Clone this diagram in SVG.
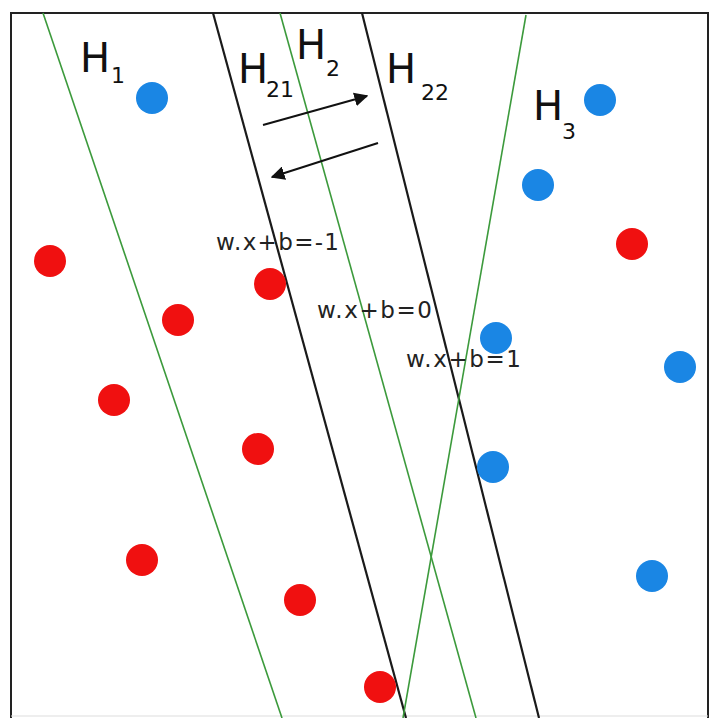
<svg xmlns="http://www.w3.org/2000/svg" width="710" height="718" viewBox="0 0 710 718">
<defs>
<style>
.blue{fill:#1a86e4}
.red{fill:#f01010}
.green{stroke:#3c9a3c;stroke-width:1.6;fill:none}
.black{stroke:#1a1a1a;stroke-width:2.2;fill:none}
.arrow{stroke:#111;stroke-width:2;fill:none;marker-end:url(#ah)}
.H{font-family:"DejaVu Sans",sans-serif;font-size:40px;fill:#111}
.sub{font-family:"DejaVu Sans",sans-serif;font-size:22px;fill:#111}
.eq{font-family:"DejaVu Sans",sans-serif;font-size:23px;fill:#222}
</style>
<marker id="ah" viewBox="0 0 10 10" refX="9" refY="5" markerWidth="7" markerHeight="7" markerUnits="strokeWidth" orient="auto">
<path d="M0,0 L10,5 L0,10 z" fill="#111"/>
</marker>
</defs>
<rect x="0" y="0" width="710" height="718" fill="#fff"/>
<g id="frame">
<path d="M11,718 L11,13 L708,13 L708,718" fill="none" stroke="#222" stroke-width="2"/>
<line x1="11" y1="716" x2="708" y2="716" stroke="#ddd" stroke-width="1"/>
</g>
<g id="hyperplanes">
<line id="H1-line" class="green" x1="43" y1="13" x2="282" y2="718"/>
<line id="H21-line" class="black" x1="213" y1="13" x2="406" y2="718"/>
<line id="H2-line" class="green" x1="280" y1="13" x2="476" y2="718"/>
<line id="H22-line" class="black" x1="362" y1="13" x2="539" y2="718"/>
<line id="H3-line" class="green" x1="526" y1="15" x2="403" y2="718"/>
</g>
<g id="connectors">
<line class="arrow" x1="263" y1="125" x2="367" y2="96"/>
<line class="arrow" x1="378" y1="143" x2="272" y2="177"/>
</g>
<g id="points-blue">
<circle class="blue" cx="152" cy="98" r="16"/>
<circle class="blue" cx="600" cy="100" r="16"/>
<circle class="blue" cx="538" cy="185" r="16"/>
<circle class="blue" cx="496" cy="338" r="16"/>
<circle class="blue" cx="680" cy="367" r="16"/>
<circle class="blue" cx="493" cy="467" r="16"/>
<circle class="blue" cx="652" cy="576" r="16"/>
</g>
<g id="points-red">
<circle class="red" cx="632" cy="244" r="16"/>
<circle class="red" cx="50" cy="261" r="16"/>
<circle class="red" cx="270" cy="284" r="16"/>
<circle class="red" cx="178" cy="320" r="16"/>
<circle class="red" cx="114" cy="400" r="16"/>
<circle class="red" cx="258" cy="449" r="16"/>
<circle class="red" cx="142" cy="560" r="16"/>
<circle class="red" cx="300" cy="600" r="16"/>
<circle class="red" cx="380" cy="687" r="16"/>
</g>
<g id="label-H1"><text class="H" x="80" y="72">H</text><text class="sub" x="111" y="83">1</text></g>
<g id="label-H21"><text class="H" x="238" y="83">H</text><text class="sub" x="266" y="97">21</text></g>
<g id="label-H2"><text class="H" x="296" y="59">H</text><text class="sub" x="326" y="76">2</text></g>
<g id="label-H22"><text class="H" x="386" y="83">H</text><text class="sub" x="421" y="100">22</text></g>
<g id="label-H3"><text class="H" x="533" y="120">H</text><text class="sub" x="562" y="139">3</text></g>
<g id="eq-labels">
<text class="eq" x="216" y="250" textLength="123" lengthAdjust="spacing">w.x+b=-1</text>
<text class="eq" x="317" y="318" textLength="115" lengthAdjust="spacing">w.x+b=0</text>
<text class="eq" x="406" y="367" textLength="115" lengthAdjust="spacing">w.x+b=1</text>
</g>
</svg>
